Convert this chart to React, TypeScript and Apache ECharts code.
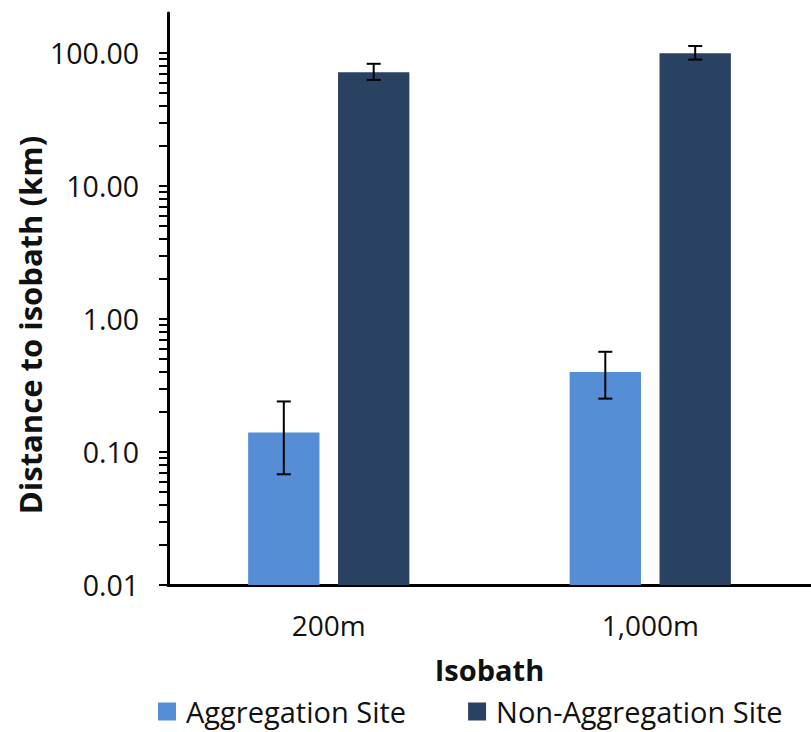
import React, { useEffect, useRef } from "react";
import * as echarts from "echarts";

const categories = ["200m", "1,000m"];
const seriesNames = ["Aggregation Site", "Non-Aggregation Site"];
const aggValues = [0.14, 0.4];
const aggLow = [0.068, 0.252];
const aggHigh = [0.24, 0.567];
const nonAggValues = [71.8, 99.8];
const nonAggLow = [62.8, 89.3];
const nonAggHigh = [83, 113];
const yMin = 0.01;
const yMax = 200;
const majorTicks = [0.01, 0.1, 1, 10, 100];
const minorMultipliers = [2, 3, 4, 5, 6, 7, 8, 9];
const colors = ["#558ED5", "#2A4262"];

const FONT = "'Open Sans'";
const TEXT = "#111";
const GRID_LEFT = 168;

export default function App() {
  const ref = useRef<HTMLDivElement>(null);
  useEffect(() => {
    if (!ref.current) return;
    const chart = echarts.init(ref.current, undefined, { renderer: "svg" });

    const tickValues: number[] = [];
    majorTicks.forEach((m, i) => {
      tickValues.push(m);
      if (i < majorTicks.length - 1) {
        minorMultipliers.forEach((k) => tickValues.push(+(m * k).toPrecision(3)));
      }
    });

    const makeRender = (idx: number) => (params: any, api: any) => {
      const cat = api.value(0);
      const v = api.value(1);
      const lo = api.value(2);
      const hi = api.value(3);
      const band = api.size([1, 1])[0];
      const w = band * 0.2219;
      const off = band * 0.1398 * (idx === 0 ? -1 : 1);
      const base = api.coord([cat, yMin]);
      const top = api.coord([cat, v]);
      const cx = top[0] + off;
      const pLo = api.coord([cat, lo]);
      const pHi = api.coord([cat, hi]);
      const cap = 7;
      const es = { stroke: "#000", lineWidth: 2 };
      return {
        type: "group",
        children: [
          {
            type: "rect",
            shape: { x: cx - w / 2, y: top[1], width: w, height: base[1] - top[1] },
            style: api.style(),
          },
          { type: "line", shape: { x1: cx, y1: pHi[1], x2: cx, y2: pLo[1] }, style: es },
          { type: "line", shape: { x1: cx - cap, y1: pHi[1], x2: cx + cap, y2: pHi[1] }, style: es },
          { type: "line", shape: { x1: cx - cap, y1: pLo[1], x2: cx + cap, y2: pLo[1] }, style: es },
        ],
      };
    };

    const option: any = {
      animation: false,
      textStyle: { fontFamily: FONT },
      grid: { left: GRID_LEFT, top: 13, width: 658, height: 572 },
      legend: {
        data: seriesNames.map((n) => ({ name: n, icon: "rect" })),
        left: 158,
        top: 697,
        padding: 0,
        itemWidth: 18,
        itemHeight: 18,
        itemGap: 62,
        textStyle: { fontSize: 29, color: TEXT, fontFamily: FONT, padding: [0, 0, 0, 5] },
      },
      xAxis: {
        type: "category",
        data: categories,
        axisLine: { lineStyle: { color: "#000", width: 3 } },
        axisTick: { show: false },
        axisLabel: { fontSize: 28, color: TEXT, margin: 26, fontFamily: FONT },
        name: "Isobath",
        nameLocation: "middle",
        nameGap: 70,
        nameTextStyle: { fontSize: 29, fontWeight: "bold", color: TEXT, fontFamily: FONT },
        splitLine: { show: false },
      },
      yAxis: {
        type: "log",
        logBase: 10,
        min: yMin,
        max: yMax,
        axisLine: { show: true, lineStyle: { color: "#000", width: 3 } },
        axisTick: {
          show: true,
          customValues: tickValues,
          length: 9,
          lineStyle: { color: "#000", width: 2 },
        },
        splitLine: { show: false },
        axisLabel: {
          fontSize: 28.5,
          color: TEXT,
          margin: 29,
          fontFamily: FONT,
          customValues: majorTicks,
          formatter: (val: number) => Number(val).toFixed(2),
        },
      },
      graphic: [
        {
          type: "text",
          x: 30,
          y: 325,
          rotation: Math.PI / 2,
          style: {
            text: "Distance to isobath (km)",
            font: `bold 31px ${FONT}`,
            textAlign: "center",
            textVerticalAlign: "middle",
            fill: TEXT,
          },
        },
      ],
      series: [
        {
          name: seriesNames[0],
          type: "custom",
          itemStyle: { color: colors[0] },
          renderItem: makeRender(0),
          data: categories.map((_, i) => [i, aggValues[i], aggLow[i], aggHigh[i]]),
        },
        {
          name: seriesNames[1],
          type: "custom",
          itemStyle: { color: colors[1] },
          renderItem: makeRender(1),
          data: categories.map((_, i) => [i, nonAggValues[i], nonAggLow[i], nonAggHigh[i]]),
        },
      ],
    };
    chart.setOption(option);
    return () => chart.dispose();
  }, []);
  return <div ref={ref} style={{ width: 811, height: 732, position: "absolute", left: 0, top: 0 }} />;
}
